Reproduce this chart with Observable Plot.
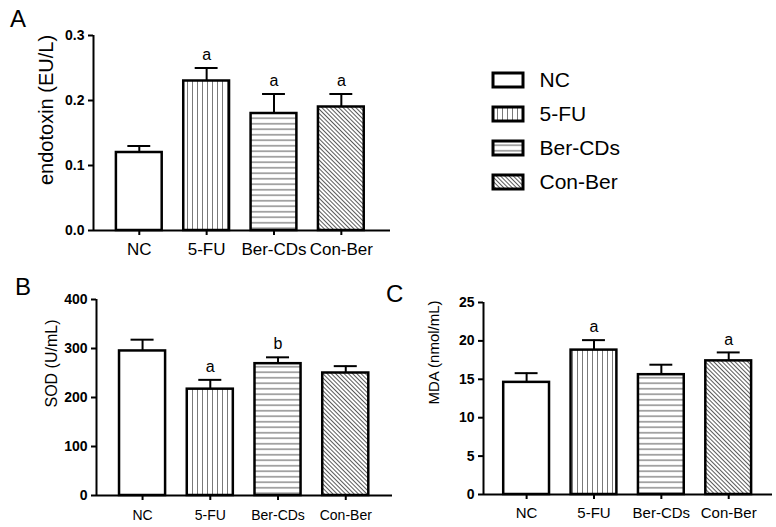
<!DOCTYPE html>
<html><head><meta charset="utf-8">
<script src="https://cdn.jsdelivr.net/npm/d3@7"></script>
<script src="https://cdn.jsdelivr.net/npm/@observablehq/plot@0.6"></script>
<style>
body{margin:0;background:#fff;}
#fig{position:relative;width:776px;height:527px;font-family:"Liberation Sans",Arial,sans-serif;color:#000;overflow:hidden;}
#fig .p{position:absolute;}
#fig .letter{position:absolute;font-size:24px;line-height:1;}
</style></head><body>
<svg width="0" height="0" style="position:absolute">
<defs>
<pattern id="pat-vert" patternUnits="userSpaceOnUse" width="5" height="5">
<rect width="5" height="5" fill="#fff"/><line x1="2.5" y1="0" x2="2.5" y2="5" stroke="#7a7a7a" stroke-width="1"/></pattern>
<pattern id="pat-horiz" patternUnits="userSpaceOnUse" width="6" height="5.5">
<rect width="6" height="5.5" fill="#fff"/><line x1="0" y1="2.75" x2="6" y2="2.75" stroke="#555" stroke-width="1"/></pattern>
<pattern id="pat-diag" patternUnits="userSpaceOnUse" width="3" height="3" patternTransform="rotate(-45)">
<rect width="3" height="3" fill="#fff"/><line x1="1.5" y1="0" x2="1.5" y2="3" stroke="#5a5a5a" stroke-width="1"/></pattern>
</defs></svg>
<div id="fig">
<div class="letter" style="left:10px;top:7px">A</div>
<div class="letter" style="left:15px;top:275px">B</div>
<div class="letter" style="left:386px;top:282px">C</div>
<div class="p" id="pa" style="left:0;top:0"></div>
<div class="p" id="pleg" style="left:480px;top:60px"></div>
<div class="p" id="pb" style="left:0;top:265px"></div>
<div class="p" id="pc" style="left:390px;top:265px"></div>
</div>
<script>
// ---- data ----
const groups = ["NC", "5-FU", "Ber-CDs", "Con-Ber"];

const endotoxinMean = [0.12, 0.23, 0.18, 0.19];
const endotoxinErr  = [0.01, 0.02, 0.03, 0.02];
const endotoxinSig  = ["", "a", "a", "a"];
const endotoxinTicks = [0, 0.1, 0.2, 0.3];

const sodMean = [295, 217, 269, 250];
const sodErr  = [23, 19, 13, 14];
const sodSig  = ["", "a", "b", ""];
const sodTicks = [0, 100, 200, 300, 400];

const mdaMean = [14.6, 18.8, 15.6, 17.4];
const mdaErr  = [1.2, 1.3, 1.3, 1.1];
const mdaSig  = ["", "a", "", "a"];
const mdaTicks = [0, 5, 10, 15, 20, 25];

// ---- styles ----
const fills = ["#fff", "url(#pat-vert)", "url(#pat-horiz)", "url(#pat-diag)"];
const FONT = '"Liberation Sans", Arial, sans-serif';

function panel(o) {
  const rows = groups.map((g, i) => ({i, group: g, mean: o.means[i], err: o.errs[i], sig: o.sigs[i]}));
  return Plot.plot({
    width: o.width, height: o.height,
    marginLeft: o.mL, marginRight: o.mR, marginTop: o.mT, marginBottom: o.mB,
    style: {fontFamily: FONT, color: "#000", background: "transparent", overflow: "visible"},
    x: {domain: o.xDomain},
    y: {domain: [o.ticks[0], o.ticks[o.ticks.length - 1]]},
    color: {type: "identity"},
    marks: [
      Plot.ruleX(rows, {x: "i", y1: "mean", y2: d => d.mean + d.err, strokeWidth: 2}),
      Plot.ruleY(rows, {y: d => d.mean + d.err, x1: d => d.i - 0.17, x2: d => d.i + 0.17, strokeWidth: 2}),
      Plot.rect(rows, {x1: d => d.i - 0.34, x2: d => d.i + 0.34, y1: 0, y2: "mean",
        fill: d => fills[d.i], stroke: "#000", strokeWidth: 2.5}),
      Plot.text(rows.filter(d => d.sig), {x: "i", y: d => d.mean + d.err, text: "sig", dy: -13, fontSize: 16}),
      Plot.ruleY([o.ticks[0]], {strokeWidth: 2}),
      Plot.ruleX([o.xDomain[0]], {strokeWidth: 2}),
      Plot.axisY({ticks: o.ticks, tickFormat: o.fmt, tickSize: 5, strokeWidth: 2, fontWeight: "bold", fontSize: 14, label: null}),
      Plot.axisX({ticks: [0, 1, 2, 3], tickFormat: i => groups[i], tickSize: 5, strokeWidth: 2,
        fontSize: o.xFont, tickPadding: o.xPad, label: null}),
      Plot.text([o.label], {text: d => d, frameAnchor: "left", textAnchor: "middle", rotate: -90,
        dx: o.ldx, dy: o.ldy, fontSize: o.lSize})
    ]
  });
}

document.getElementById("pa").append(panel({
  means: endotoxinMean, errs: endotoxinErr, sigs: endotoxinSig, ticks: endotoxinTicks, fmt: d3.format(".1f"),
  width: 400, height: 262, mL: 93, mR: 10, mT: 35, mB: 32, xDomain: [-0.68, 3.73],
  xFont: 17, xPad: 7, label: "endotoxin (EU/L)", lSize: 20, ldx: -47, ldy: -23
}));

document.getElementById("pb").append(panel({
  means: sodMean, errs: sodErr, sigs: sodSig, ticks: sodTicks, fmt: d3.format("d"),
  width: 400, height: 262, mL: 96, mR: 8, mT: 34, mB: 32, xDomain: [-0.68, 3.69],
  xFont: 14, xPad: 10, label: "SOD (U/mL)", lSize: 16, ldx: -45, ldy: -34
}));

document.getElementById("pc").append(panel({
  means: mdaMean, errs: mdaErr, sigs: mdaSig, ticks: mdaTicks, fmt: d3.format("d"),
  width: 386, height: 262, mL: 93, mR: 4, mT: 37, mB: 33, xDomain: [-0.64, 3.65],
  xFont: 15, xPad: 8, label: "MDA (nmol/mL)", lSize: 15, ldx: -49, ldy: -46
}));

document.getElementById("pleg").append(Plot.plot({
  width: 200, height: 145, marginLeft: 13, marginRight: 157, marginTop: 3, marginBottom: 6,
  style: {fontFamily: FONT, color: "#000", background: "transparent", overflow: "visible"},
  x: {domain: [0, 1], axis: null},
  y: {domain: groups, axis: null, padding: 0},
  color: {type: "identity"},
  marks: [
    Plot.barX(groups, {y: d => d, x1: 0, x2: 1, fill: (d, i) => fills[i], stroke: "#000", strokeWidth: 3, insetTop: 10, insetBottom: 10}),
    Plot.text(groups, {y: d => d, x: 1, dx: 16, text: d => d, textAnchor: "start", fontSize: 21})
  ]
}));
</script>
</body></html>
